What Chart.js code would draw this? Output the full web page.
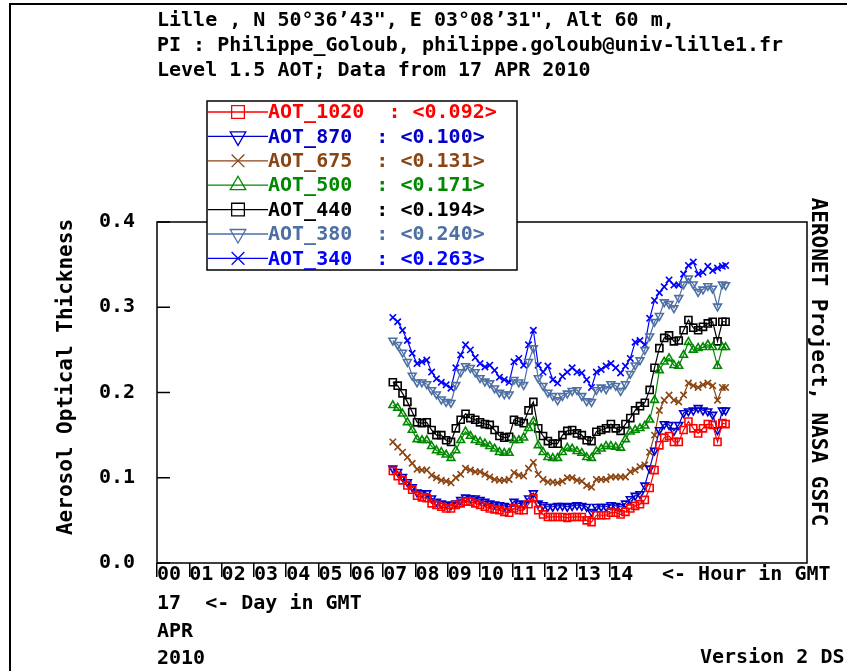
<!DOCTYPE html>
<html><head><meta charset="utf-8">
<script src="https://cdn.jsdelivr.net/npm/chart.js@4.4.0/dist/chart.umd.min.js"></script>
<style>html,body{margin:0;padding:0;background:#fff;overflow:hidden}canvas{display:block}</style>
</head><body>
<canvas id="c" width="847" height="671"></canvas>
<script>
const hours = [7.30,7.45,7.60,7.75,7.90,8.05,8.20,8.35,8.50,8.65,
8.80,8.95,9.10,9.25,9.40,9.55,9.70,9.85,10.00,10.15,
10.30,10.45,10.60,10.75,10.90,11.05,11.20,11.35,11.50,11.65,
11.80,11.95,12.10,12.25,12.40,12.55,12.70,12.85,13.00,13.15,
13.30,13.45,13.60,13.75,13.90,14.05,14.20,14.35,14.50,14.65,
14.80,14.95,15.10,15.25,15.40,15.55,15.70,15.85,16.00,16.15,
16.30,16.45,16.60,16.75,16.90,17.05,17.20,17.35,17.50,17.60];

const aot1020 = [0.108,0.102,0.097,0.091,0.086,0.079,0.077,0.076,0.070,0.068,
0.066,0.064,0.064,0.068,0.070,0.072,0.072,0.070,0.068,0.066,
0.064,0.063,0.062,0.060,0.059,0.064,0.062,0.062,0.069,0.076,
0.062,0.057,0.054,0.054,0.054,0.054,0.053,0.054,0.054,0.054,
0.050,0.048,0.056,0.056,0.056,0.059,0.059,0.057,0.060,0.064,
0.067,0.069,0.074,0.088,0.109,0.138,0.147,0.149,0.142,0.142,
0.156,0.166,0.158,0.152,0.158,0.163,0.162,0.142,0.164,0.163];

const aot870 = [0.111,0.107,0.101,0.095,0.089,0.083,0.082,0.082,0.076,0.072,
0.070,0.069,0.068,0.070,0.074,0.077,0.076,0.076,0.074,0.072,
0.070,0.069,0.068,0.067,0.066,0.072,0.070,0.069,0.076,0.082,
0.070,0.068,0.066,0.066,0.067,0.067,0.066,0.067,0.068,0.067,
0.066,0.060,0.066,0.066,0.066,0.068,0.067,0.066,0.070,0.075,
0.079,0.081,0.091,0.111,0.132,0.156,0.163,0.162,0.155,0.162,
0.176,0.178,0.179,0.182,0.179,0.178,0.174,0.156,0.179,0.179];

const aot675 = [0.142,0.136,0.130,0.124,0.117,0.110,0.109,0.109,0.103,0.100,
0.097,0.096,0.094,0.100,0.104,0.111,0.109,0.107,0.107,0.104,
0.101,0.098,0.097,0.097,0.098,0.106,0.103,0.102,0.111,0.118,
0.104,0.098,0.095,0.095,0.094,0.096,0.100,0.100,0.097,0.096,
0.091,0.089,0.098,0.098,0.098,0.101,0.101,0.101,0.101,0.107,
0.109,0.113,0.115,0.130,0.150,0.179,0.191,0.197,0.191,0.189,
0.197,0.211,0.208,0.206,0.209,0.211,0.208,0.191,0.206,0.206];

const aot500 = [0.185,0.182,0.175,0.165,0.156,0.145,0.144,0.144,0.137,0.132,
0.130,0.127,0.123,0.132,0.144,0.154,0.149,0.144,0.142,0.140,
0.137,0.134,0.130,0.129,0.129,0.144,0.144,0.147,0.158,0.166,
0.138,0.130,0.124,0.123,0.123,0.130,0.135,0.134,0.131,0.129,
0.124,0.123,0.131,0.134,0.137,0.137,0.136,0.135,0.145,0.154,
0.156,0.158,0.161,0.168,0.191,0.226,0.236,0.240,0.232,0.231,
0.244,0.259,0.250,0.252,0.253,0.256,0.253,0.231,0.253,0.253];

const aot440 = [0.212,0.208,0.199,0.189,0.177,0.165,0.164,0.165,0.156,0.150,
0.150,0.144,0.142,0.158,0.168,0.175,0.170,0.168,0.165,0.163,
0.162,0.156,0.149,0.147,0.148,0.168,0.166,0.164,0.179,0.189,
0.158,0.149,0.143,0.140,0.140,0.150,0.155,0.156,0.152,0.150,
0.144,0.143,0.154,0.156,0.158,0.163,0.158,0.155,0.163,0.170,
0.179,0.184,0.188,0.203,0.229,0.252,0.264,0.267,0.260,0.261,
0.273,0.285,0.276,0.273,0.277,0.281,0.283,0.260,0.283,0.283];

const aot380 = [0.261,0.256,0.247,0.236,0.220,0.212,0.212,0.210,0.203,0.198,
0.192,0.189,0.188,0.209,0.224,0.231,0.229,0.224,0.217,0.213,
0.211,0.205,0.200,0.198,0.198,0.215,0.212,0.209,0.236,0.252,
0.217,0.208,0.200,0.196,0.191,0.196,0.199,0.202,0.203,0.196,
0.190,0.189,0.203,0.206,0.204,0.210,0.208,0.202,0.210,0.222,
0.232,0.238,0.250,0.266,0.283,0.290,0.306,0.304,0.299,0.311,
0.327,0.334,0.327,0.318,0.321,0.325,0.322,0.301,0.327,0.326];

const aot340 = [0.288,0.283,0.273,0.261,0.246,0.234,0.236,0.238,0.224,0.216,
0.212,0.209,0.205,0.229,0.244,0.256,0.250,0.241,0.234,0.230,
0.232,0.226,0.218,0.215,0.212,0.236,0.240,0.232,0.256,0.273,
0.232,0.224,0.231,0.215,0.211,0.219,0.224,0.229,0.224,0.223,
0.215,0.206,0.224,0.227,0.231,0.234,0.229,0.223,0.231,0.240,
0.259,0.261,0.256,0.287,0.308,0.317,0.324,0.332,0.326,0.326,
0.339,0.349,0.353,0.339,0.341,0.348,0.343,0.346,0.348,0.349];

const seriesNames = ['AOT_1020','AOT_870','AOT_675','AOT_500','AOT_440','AOT_380','AOT_340'];
const seriesMeans = ['0.092','0.100','0.131','0.171','0.194','0.240','0.263'];
const seriesValues = [aot1020, aot870, aot675, aot500, aot440, aot380, aot340];
const hourLabels = ['00','01','02','03','04','05','06','07','08','09','10','11','12','13','14'];
const yTickValues = [0.0, 0.1, 0.2, 0.3, 0.4];
const headerLines = [
  'Lille , N 50°36’43", E 03°08’31", Alt 60 m,',
  'PI : Philippe_Goloub, philippe.goloub@univ-lille1.fr',
  'Level 1.5 AOT; Data from 17 APR 2010'
];

const colors = ['#ff0000','#0000c8','#8b4513','#008800','#000000','#4d6fa3','#0000ff'];
const styles = [
  {s:'rect', rot:0, r:5},
  {s:'triangle', rot:180, r:4.5},
  {s:'crossRot', rot:0, r:4.5},
  {s:'triangle', rot:0, r:4.5},
  {s:'rect', rot:0, r:5},
  {s:'triangle', rot:180, r:4.5},
  {s:'crossRot', rot:0, r:4.5}
];

const MONO = '"DejaVu Sans Mono", "Liberation Mono", monospace';
const tickFont = {family: MONO, size: 20, weight: 'bold', lineHeight: 1.2};

const datasets = seriesValues.map((vals, i) => ({
  label: seriesNames[i],
  data: vals.map((v, k) => ({x: hours[k], y: v})),
  borderColor: colors[i],
  borderWidth: 1.2,
  pointStyle: styles[i].s,
  pointRotation: styles[i].rot,
  pointRadius: styles[i].r,
  pointBorderWidth: 1.6,
  pointBorderColor: colors[i],
  pointBackgroundColor: 'rgba(0,0,0,0)',
  fill: false,
  tension: 0
}));

function drawMarker(ctx, style, radius, rot, x, y) {
  if (Chart.helpers && Chart.helpers.drawPoint) {
    Chart.helpers.drawPoint(ctx, {pointStyle: style, radius: radius, rotation: rot, borderWidth: 1.4}, x, y);
  }
}

const decor = {
  id: 'decor',
  beforeDraw(chart) {
    const ctx = chart.ctx;
    ctx.save();
    ctx.fillStyle = '#fff';
    ctx.fillRect(0, 0, chart.width, chart.height);
    ctx.restore();
  },
  afterDraw(chart) {
    const ctx = chart.ctx;
    const a = chart.chartArea;
    const ys = chart.scales.y;
    ctx.save();
    ctx.strokeStyle = '#000';
    ctx.lineWidth = 2;
    ctx.beginPath();
    ctx.moveTo(10, 671); ctx.lineTo(10, 4); ctx.lineTo(847, 4);
    ctx.stroke();
    ctx.lineWidth = 1.5;
    ctx.strokeRect(a.left, a.top, a.right - a.left, a.bottom - a.top);
    yTickValues.forEach(v => {
      const py = ys.getPixelForValue(v);
      ctx.beginPath(); ctx.moveTo(a.left, py); ctx.lineTo(a.left + 13, py); ctx.stroke();
    });
    const bx = 207, by = 101, bw = 310, bh = 169;
    ctx.fillStyle = '#fff';
    ctx.fillRect(bx, by, bw, bh);
    ctx.strokeStyle = '#000';
    ctx.lineWidth = 1.5;
    ctx.strokeRect(bx, by, bw, bh);
    ctx.font = 'bold 20px ' + MONO;
    ctx.textBaseline = 'middle';
    ctx.textAlign = 'left';
    seriesNames.forEach((n, i) => {
      const y = 112 + 24.4 * i;
      ctx.strokeStyle = colors[i];
      ctx.lineWidth = 1.3;
      ctx.beginPath(); ctx.moveTo(bx + 1, y); ctx.lineTo(268, y); ctx.stroke();
      ctx.fillStyle = 'rgba(255,255,255,0)';
      drawMarker(ctx, styles[i].s, 9, styles[i].rot, 238, y);
      ctx.fillStyle = colors[i];
      ctx.fillText(n + '  : <' + seriesMeans[i] + '>', 268, y + 1);
    });
    ctx.fillStyle = '#000';
    ctx.font = 'bold 20px ' + MONO;
    headerLines.forEach((t, i) => ctx.fillText(t, 157, 21 + 25 * i));
    ctx.fillText('<- Hour in GMT', 662, 575);
    ctx.fillText('17  <- Day in GMT', 157, 604);
    ctx.fillText('APR', 157, 632);
    ctx.fillText('2010', 157, 659);
    ctx.fillText('Version 2 DS', 700, 658);
    ctx.save();
    ctx.translate(67, 377);
    ctx.rotate(-Math.PI / 2);
    ctx.textAlign = 'center';
    ctx.font = 'bold 21px ' + MONO;
    ctx.fillText('Aerosol Optical Thickness', 0, 0);
    ctx.restore();
    ctx.save();
    ctx.translate(817, 362);
    ctx.rotate(Math.PI / 2);
    ctx.textAlign = 'center';
    ctx.font = 'bold 21px ' + MONO;
    ctx.fillText('AERONET Project, NASA GSFC', 0, 0);
    ctx.restore();
    ctx.restore();
  }
};

new Chart(document.getElementById('c'), {
  type: 'line',
  data: {datasets},
  plugins: [decor],
  options: {
    responsive: false,
    animation: false,
    devicePixelRatio: 1,
    layout: {padding: {left: 0, top: 222, right: 40, bottom: 0}},
    plugins: {legend: {display: false}, tooltip: {enabled: false}, title: {display: false}},
    scales: {
      x: {
        type: 'linear', min: 0, max: 20.12,
        afterFit(s) { s.height = 108; },
        afterBuildTicks(s) { s.ticks = hourLabels.map((l, i) => ({value: i})); },
        grid: {display: true, drawOnChartArea: false, drawTicks: true, tickLength: 14, color: '#000', lineWidth: 1.5},
        border: {display: false},
        ticks: {align: 'start', padding: -14, autoSkip: false, maxRotation: 0, minRotation: 0, color: '#000', font: tickFont,
          callback: (v, i) => hourLabels[i]}
      },
      y: {
        type: 'linear', min: 0, max: 0.4,
        afterFit(s) { s.width = 157; },
        afterBuildTicks(s) { s.ticks = yTickValues.map(v => ({value: v})); },
        grid: {display: false},
        border: {display: false},
        ticks: {padding: 14, color: '#000', font: tickFont, callback: v => Number(v).toFixed(1)}
      }
    }
  }
});
</script>
</body></html>
